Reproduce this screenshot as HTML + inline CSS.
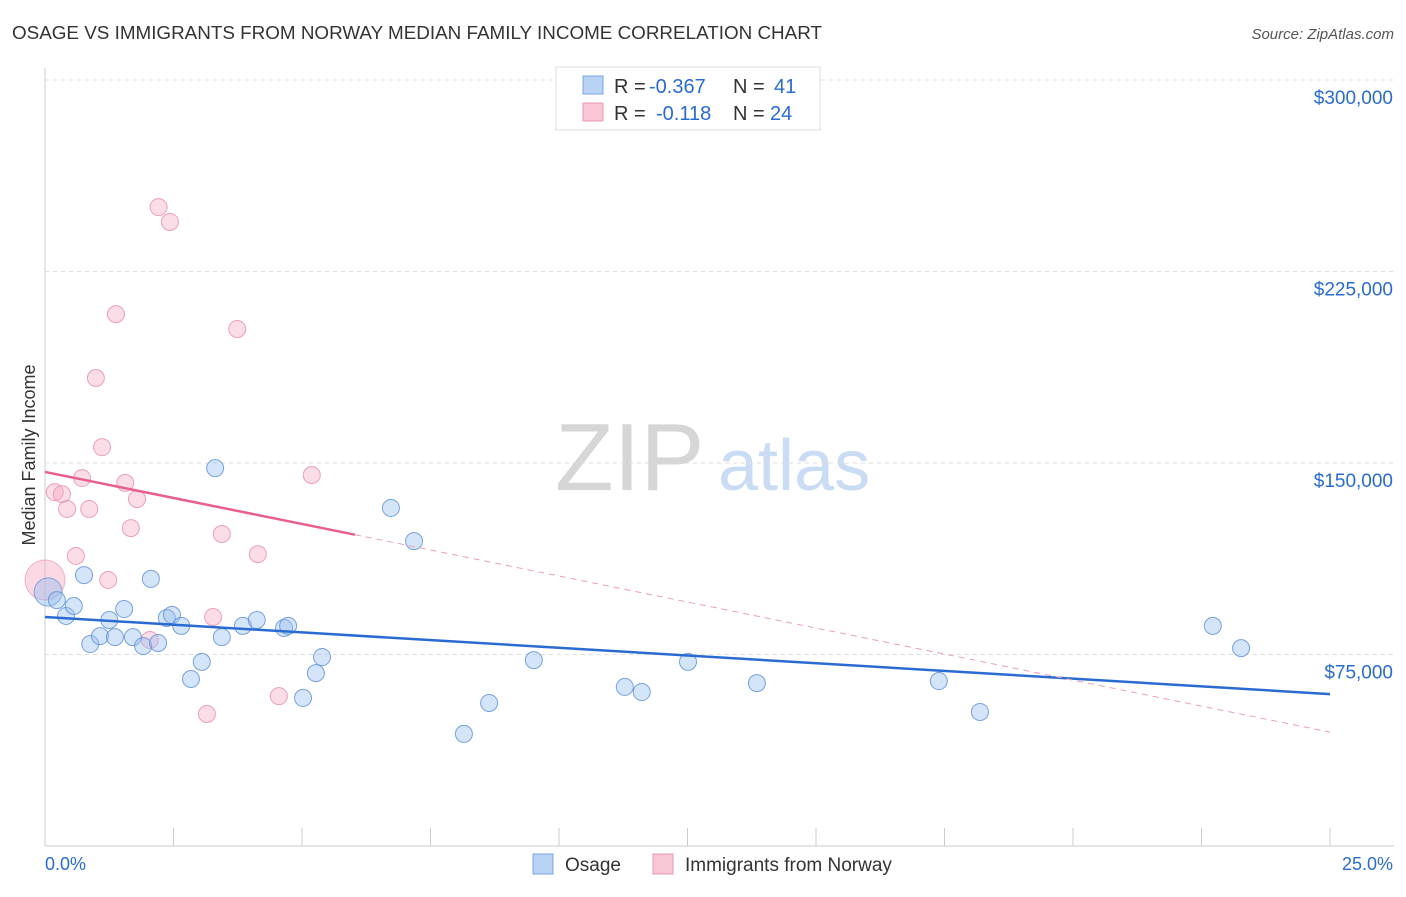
<!DOCTYPE html>
<html><head><meta charset="utf-8"><style>
body{margin:0;background:#fff;font-family:"Liberation Sans",sans-serif}
svg text{font-family:"Liberation Sans",sans-serif}
</style></head><body>
<svg id="c" width="1406" height="892">
<text x="12" y="39" font-size="18" fill="#333" textLength="810" lengthAdjust="spacingAndGlyphs">OSAGE VS IMMIGRANTS FROM NORWAY MEDIAN FAMILY INCOME CORRELATION CHART</text>
<text x="1394" y="39" font-size="15" fill="#555" text-anchor="end" font-style="italic">Source: ZipAtlas.com</text>
<text x="35" y="455" font-size="18" fill="#333" text-anchor="middle" transform="rotate(-90 35 455)">Median Family Income</text>
<text x="555" y="490" font-size="96" fill="#d6d6d6" font-family="Liberation Serif">ZIP</text>
<text x="718" y="490" font-size="72" fill="#c9dcf3">atlas</text>
<g id="grid"></g><g id="pts"></g><g id="trend"></g>
<g>
<rect x="556" y="67" width="264" height="63" fill="#fff" stroke="#ddd"/>
<rect x="583" y="76" width="20" height="18" fill="#b8d3f4" stroke="#7aa6e0"/>
<rect x="583" y="103" width="20" height="18" fill="#f8c6d4" stroke="#e89ab0"/>
<text x="614" y="93" font-size="20" fill="#333">R =</text>
<text x="649" y="93" font-size="20" fill="#2a6bd1">-0.367</text>
<text x="733" y="93" font-size="20" fill="#333">N =</text>
<text x="774" y="93" font-size="20" fill="#2a6bd1">41</text>
<text x="614" y="120" font-size="20" fill="#333">R =</text>
<text x="656" y="120" font-size="20" fill="#2a6bd1">-0.118</text>
<text x="733" y="120" font-size="20" fill="#333">N =</text>
<text x="770" y="120" font-size="20" fill="#2a6bd1">24</text>
</g>
<g>
<rect x="533" y="854" width="20" height="20" fill="#b8d3f4" stroke="#7aa6e0"/>
<text x="565" y="871" font-size="19" fill="#333">Osage</text>
<rect x="653" y="854" width="20" height="20" fill="#f8c6d4" stroke="#e89ab0"/>
<text x="685" y="871" font-size="19" fill="#333">Immigrants from Norway</text>
</g>
<text x="45" y="870" font-size="18" fill="#2a6bd1">0.0%</text>
<text x="1393" y="870" font-size="18" fill="#2a6bd1" text-anchor="end">25.0%</text>
</svg>
<script>
const yTicks=[75000,150000,225000,300000];
const yTickLabels=["$75,000","$150,000","$225,000","$300,000"];
const osageX=[0.23,0.41,0.56,0.76,0.88,1.07,1.25,1.36,1.54,1.71,1.91,2.06,2.20,2.37,2.47,2.65,2.84,3.05,3.31,3.44,3.85,4.12,4.65,4.73,5.02,5.27,5.39,6.73,7.18,8.15,8.64,9.51,11.28,11.61,12.51,13.85,17.39,18.19,22.72,23.27];
const osageY=[96300,90100,94000,106100,79100,82200,88500,81800,92800,81800,78300,104600,79500,89300,90500,86200,65400,72100,148000,81800,86200,88500,85400,86200,58000,67700,74000,132400,119400,43900,56000,72800,62300,60300,72100,63800,64600,52500,86200,77500];
const norwayX=[0.19,0.33,0.43,0.60,0.72,0.86,0.99,1.11,1.23,1.38,1.56,1.67,1.79,2.04,2.21,2.43,3.15,3.27,3.44,3.74,4.14,4.55,5.19];
const norwayY=[138600,137800,132000,113600,144100,132000,183300,156200,104200,208300,142200,124500,135900,80700,250200,244400,51700,89700,122200,202500,114300,58700,145300];
const osageTrend=[89700,59500];
const norwayTrend=[146500,44600];
const norwaySolidEnd=6.03;
const X=v=>45+v/25*1285, Y=v=>846-v/75000*191.5;
const ns="http://www.w3.org/2000/svg";
function mk(t,a,p){const e=document.createElementNS(ns,t);for(const k in a)e.setAttribute(k,a[k]);p.appendChild(e);return e;}
const g=document.getElementById('grid');
mk('line',{x1:45,y1:68,x2:45,y2:846,stroke:'#ccc'},g);
mk('line',{x1:45,y1:846,x2:1394,y2:846,stroke:'#ccc'},g);
for(let i=0;i<=10;i++){const x=X(i*2.5);mk('line',{x1:x,y1:828,x2:x,y2:846,stroke:'#ccc'},g);}
yTicks.forEach((v,i)=>{
const l=mk('line',{x1:45,y1:Y(v),x2:1394,y2:Y(v),stroke:'#ddd','stroke-dasharray':'4,4'},g);


const t=mk('text',{x:1393,y:Y(v)+24,'font-size':19,fill:'#2a6bd1','text-anchor':'end'},g);
t.textContent=yTickLabels[i];


});
const p=document.getElementById('pts');
let c=mk('circle',{cx:X(0),cy:Y(104200),r:20,fill:'rgba(245,170,195,0.45)',stroke:'rgba(232,140,170,0.6)'},p);


c=mk('circle',{cx:X(0.06),cy:Y(99500),r:14,fill:'rgba(150,190,240,0.45)',stroke:'rgba(90,140,215,0.7)'},p);


norwayX.forEach((v,i)=>{const e=mk('circle',{cx:X(v),cy:Y(norwayY[i]),r:8.5,fill:'rgba(245,170,195,0.4)',stroke:'rgba(232,140,170,0.8)'},p);

});
osageX.forEach((v,i)=>{const e=mk('circle',{cx:X(v),cy:Y(osageY[i]),r:8.5,fill:'rgba(150,190,240,0.4)',stroke:'rgba(90,140,215,0.8)'},p);

});
const tr=document.getElementById('trend');
const ny=x=>norwayTrend[0]+(norwayTrend[1]-norwayTrend[0])*x/25;
let l=mk('line',{x1:X(0),y1:Y(osageTrend[0]),x2:X(25),y2:Y(osageTrend[1]),stroke:'#2a6bd1','stroke-width':2.5},tr);


l=mk('line',{x1:X(0),y1:Y(ny(0)),x2:X(norwaySolidEnd),y2:Y(ny(norwaySolidEnd)),stroke:'#e8608a','stroke-width':2.5},tr);


l=mk('line',{x1:X(norwaySolidEnd),y1:Y(ny(norwaySolidEnd)),x2:X(25),y2:Y(ny(25)),stroke:'#e8a0b5','stroke-width':1,'stroke-dasharray':'6,5'},tr);


</script>
</body></html>
